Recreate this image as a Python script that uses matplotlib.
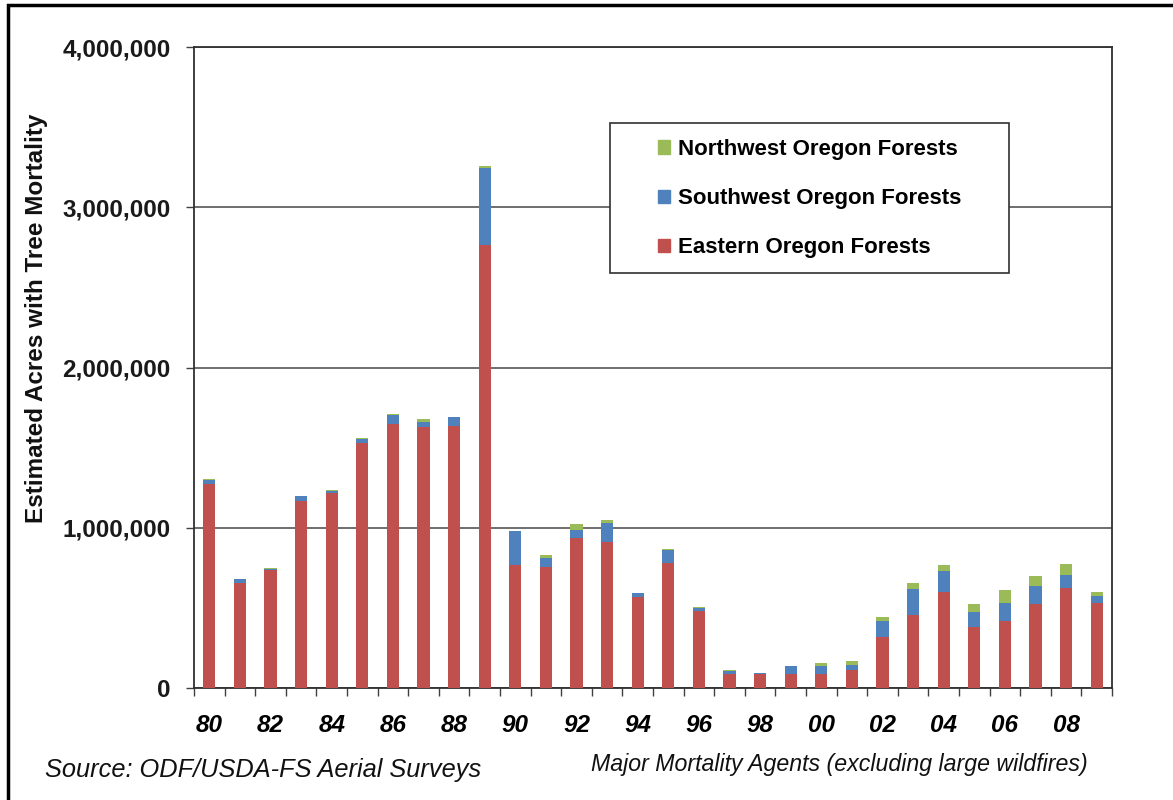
import matplotlib
matplotlib.use("Agg")
import matplotlib.pyplot as plt
from matplotlib.patches import Rectangle, Patch
import numpy as np

years = list(range(1980, 2010))
eastern = [1270000, 655000, 738000, 1167000, 1215000, 1529000, 1649000, 1627000, 1637000, 2764000,
           768000, 753000, 938000, 909000, 566000, 778000, 480000, 88000, 87000, 85000,
           87000, 110000, 320000, 456000, 597000, 383000, 418000, 526000, 622000, 532000]
southwest = [30000, 25000, 6000, 29000, 17000, 27000, 57000, 33000, 52000, 483000,
             210000, 58000, 48000, 119000, 25000, 85000, 17000, 20000, 6000, 50000,
             50000, 36000, 96000, 162000, 131000, 91000, 114000, 111000, 85000, 40000]
northwest = [4000, 3000, 2000, 3000, 3000, 3000, 3000, 17000, 3000, 8000,
             2000, 17000, 35000, 20000, 3000, 3000, 8000, 3000, 2000, 3000,
             19000, 22000, 25000, 39000, 40000, 52000, 80000, 64000, 67000, 27000]
tick_labels = ["80", "82", "84", "86", "88", "90", "92", "94", "96", "98",
               "00", "02", "04", "06", "08"]
series_names = ["Northwest Oregon Forests", "Southwest Oregon Forests", "Eastern Oregon Forests"]

RED = "#C0504D"
BLUE = "#4F81BD"
GREEN = "#9BBB59"

plt.rcParams['font.family'] = ['Liberation Sans', 'DejaVu Sans']

fig = plt.figure(figsize=(11.73, 8.0), dpi=100)
ax = fig.add_axes([194/1173, 1 - 688/800, (1112-194)/1173, (688-47)/800])

x = np.arange(len(years))
e = np.array(eastern)
s = np.array(southwest)
n = np.array(northwest)
w = 0.4
ax.bar(x, e, width=w, color=RED, zorder=3)
ax.bar(x, s, width=w, bottom=e, color=BLUE, zorder=3)
ax.bar(x, n, width=w, bottom=e + s, color=GREEN, zorder=3)

ax.set_xlim(-0.5, len(years) - 0.5)
ax.set_ylim(0, 4000000)
ax.set_yticks([0, 1000000, 2000000, 3000000, 4000000])
ax.set_yticklabels(["0", "1,000,000", "2,000,000", "3,000,000", "4,000,000"],
                   fontsize=17.5, fontweight="bold", color="#1a1a1a")
ax.yaxis.grid(True, color="#555555", linewidth=1.2, zorder=0)
ax.tick_params(axis="y", length=6, width=1, color="#404040", pad=11, direction="out")

ax.set_xticks(x[::2])
ax.set_xticklabels(tick_labels, fontsize=17.5, fontweight="bold", fontstyle="italic")
ax.set_xticks(np.arange(-0.5, len(years), 1.0), minor=True)
ax.tick_params(axis="x", which="major", length=0, pad=19)
ax.tick_params(axis="x", which="minor", length=6, width=1, color="#404040", direction="out")

for side in ["left", "bottom", "top", "right"]:
    ax.spines[side].set_color("#303030")
    ax.spines[side].set_linewidth(1.3)

fig.text(37/1173, 1 - 318/800, "Estimated Acres with Tree Mortality", fontsize=17.5,
         fontweight="bold", rotation=90, ha="center", va="center", color="#111111")

# legend frame
ax.add_patch(Rectangle((0.453, 0.647), 0.435, 0.234, transform=ax.transAxes,
                       facecolor="white", edgecolor="#303030", linewidth=1.2, zorder=5))
handles = [Patch(color=GREEN), Patch(color=BLUE), Patch(color=RED)]
leg = ax.legend(handles, series_names, loc="upper left",
                bbox_to_anchor=((658 - 194) / 918, (688 - 139) / 641),
                frameon=False, fontsize=16, handlelength=0.55, handleheight=0.55,
                handletextpad=0.35, labelspacing=1.27, borderpad=0, borderaxespad=0)
for t in leg.get_texts():
    t.set_fontweight("bold")
leg.set_zorder(6)

fig.text(45/1173, 1 - 770/800, "Source: ODF/USDA-FS Aerial Surveys", fontsize=18.3,
         fontstyle="italic", ha="left", va="center", color="#111111")
fig.text(1088/1173, 1 - 765/800, "Major Mortality Agents (excluding large wildfires)",
         fontsize=16.7, fontstyle="italic", ha="right", va="center", color="#111111")

# outer border (left and top visible)
fig.add_artist(Rectangle((8/1173, -0.05), 1.1, 1 - 5/800 + 0.05, transform=fig.transFigure,
                         facecolor="none", edgecolor="black", linewidth=2.5))

fig.savefig("out.png", dpi=100)
